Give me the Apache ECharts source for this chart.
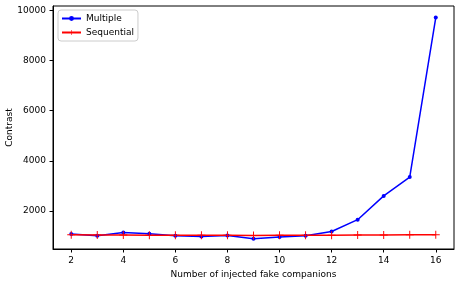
<!DOCTYPE html>
<html><head><meta charset="utf-8">
<script src="https://cdn.jsdelivr.net/npm/echarts@6/dist/echarts.min.js"></script>
<style>html,body{margin:0;padding:0;background:#fff}#c{width:460px;height:284px}</style>
</head><body><div id="c"></div>
<script>
const xValues = [2,3,4,5,6,7,8,9,10,11,12,13,14,15,16];
const multiple = [1080,1010,1140,1090,1010,980,1020,890,960,1010,1180,1650,2600,3350,9720];
const sequential = [1050,1040,1040,1030,1030,1030,1030,1020,1030,1030,1030,1040,1040,1050,1050];
const xTicks = [2,4,6,8,10,12,14,16];
const yTicks = [2000,4000,6000,8000,10000];

const font = 'DejaVu Sans';
const fs = 9;
const plus = 'path://M-0.12,-1 L0.12,-1 L0.12,-0.12 L1,-0.12 L1,0.12 L0.12,0.12 L0.12,1 L-0.12,1 L-0.12,0.12 L-1,0.12 L-1,-0.12 L-0.12,-0.12 Z';
const chart = echarts.init(document.getElementById('c'), null, {renderer:'canvas'});
chart.setOption({
  animation:false,
  backgroundColor:'#fff',
  textStyle:{fontFamily:font},
  grid:{left:53,right:6,top:6,bottom:35,containLabel:false,outerBoundsMode:'none',show:true,borderColor:'#000',borderWidth:1,backgroundColor:'transparent'},
  legend:{
    orient:'vertical',left:58,top:10,
    itemWidth:19,itemHeight:6,itemGap:5,
    padding:[4,4,4,3],
    borderColor:'#ccc',borderWidth:1,borderRadius:3,
    textStyle:{fontFamily:font,fontSize:fs,color:'#000'},
    data:['Multiple','Sequential']
  },
  xAxis:{
    type:'value',min:1.3,max:16.7,
    name:'Number of injected fake companions',nameLocation:'middle',nameGap:21,nameMoveOverlap:false,
    nameTextStyle:{fontFamily:font,fontSize:fs,color:'#000'},
    axisLine:{show:true,lineStyle:{color:'#000',width:1}},
    axisTick:{show:true,inside:false,length:3.5,customValues:xTicks,lineStyle:{color:'#000'}},
    axisLabel:{customValues:xTicks,fontFamily:font,fontSize:fs,color:'#000',margin:7,formatter:v=>String(v)},
    splitLine:{show:false}
  },
  yAxis:{
    type:'value',min:480,max:10180,
    name:'Contrast',nameLocation:'middle',nameGap:39,nameMoveOverlap:false,
    nameTextStyle:{fontFamily:font,fontSize:fs,color:'#000'},
    axisLine:{show:true,lineStyle:{color:'#000',width:1}},
    axisTick:{show:true,inside:false,length:3.5,customValues:yTicks,lineStyle:{color:'#000'}},
    axisLabel:{customValues:yTicks,fontFamily:font,fontSize:fs,color:'#000',margin:7,formatter:v=>String(v)},
    splitLine:{show:false}
  },
  series:[
    {name:'Multiple',type:'line',data:xValues.map((x,i)=>[x,multiple[i]]),
     color:'#0000ff',lineStyle:{width:1.5,color:'#0000ff'},
     symbol:'circle',symbolSize:4,showSymbol:true,itemStyle:{color:'#0000ff'}},
    {name:'Sequential',type:'line',data:xValues.map((x,i)=>[x,sequential[i]]),
     color:'#ff0000',lineStyle:{width:1.5,color:'#ff0000'},
     symbol:plus,symbolSize:8,showSymbol:true,itemStyle:{color:'#ff0000'}}
  ]
});
</script></body></html>
